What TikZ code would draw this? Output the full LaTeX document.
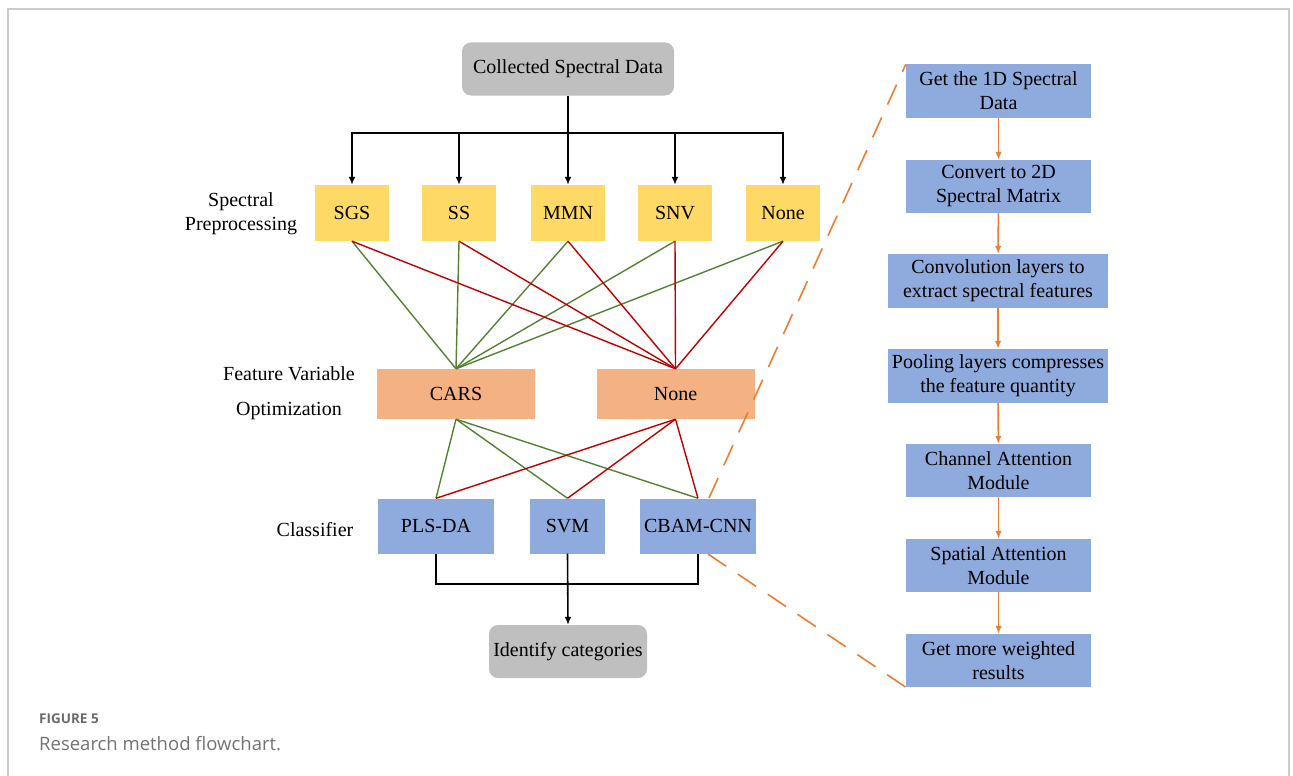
\documentclass[tikz,border=0pt]{standalone}
\usepackage{fontspec}
\setmainfont{Liberation Serif}
\newfontfamily\capfont{Open Sans}
\usetikzlibrary{arrows.meta}
\definecolor{yel}{HTML}{FFD966}
\definecolor{sal}{HTML}{F4B183}
\definecolor{blu}{HTML}{8FAADC}
\definecolor{gry}{HTML}{BFBFBF}
\definecolor{grn}{HTML}{548235}
\definecolor{rd}{HTML}{C00000}
\definecolor{org}{HTML}{ED7D31}
\definecolor{frame}{HTML}{CCCCCC}
\begin{document}
\begin{tikzpicture}[x=1pt,y=-1pt,
  base/.style={font=\fontsize{20}{24}\selectfont, align=center, inner sep=0pt, anchor=center},
  prebox/.style={base, fill=yel, minimum width=74, minimum height=56},
  featbox/.style={base, fill=sal, minimum width=158, minimum height=50},
  clsbox/.style={base, fill=blu, minimum height=55},
  cnnbox/.style={base, fill=blu, minimum width=185, minimum height=53},
  widebox/.style={base, fill=blu, minimum width=220, minimum height=54},
  termbox/.style={base, fill=gry, rounded corners=9, minimum height=53},
  lbl/.style={font=\fontsize{20}{24}\selectfont, align=center, inner sep=0pt},
  blk/.style={draw=black, line width=1.6},
  blkarr/.style={blk, -{Latex[length=8,width=7]}},
  gl/.style={draw=grn, line width=1.4},
  rl/.style={draw=rd, line width=1.4},
  oarr/.style={draw=org, line width=1.6, -{Latex[length=8,width=6.5]}},
  odash/.style={draw=org, line width=1.6, dash pattern=on 22 off 14}
]
\useasboundingbox (0,0) rectangle (1293,776);
\draw[frame, line width=1.2] (8,776) -- (8,9) -- (1289,9) -- (1289,776);

% left part
\node[termbox, minimum width=212] (coll) at (568,69) {Collected Spectral Data};
\node[prebox] (sgs) at (352,213) {SGS};
\node[prebox] (ss) at (459,213) {SS};
\node[prebox] (mmn) at (568,213) {MMN};
\node[prebox] (snv) at (675,213) {SNV};
\node[prebox] (pnone) at (783,213) {None};
\node[lbl] (lpre) at (241,214) {Spectral\\Preprocessing};

\node[featbox] (cars) at (456,394) {CARS};
\node[featbox] (fnone) at (675.5,394) {None};
\node[lbl, font=\fontsize{20}{35}\selectfont] (lfeat) at (289,393) {Feature Variable\\Optimization};

\node[clsbox, minimum width=116] (pls) at (436,526) {PLS-DA};
\node[clsbox, minimum width=75] (svm) at (567.5,526) {SVM};
\node[clsbox, minimum width=116] (cbam) at (698,526) {CBAM-CNN};
\node[lbl] (lcls) at (315,530) {Classifier};

\node[termbox, minimum width=158] (ident) at (568,651.5) {Identify categories};

\coordinate (hub) at (568,133);
\draw[blk] (coll.south) -- (hub);
\foreach \n in {sgs,ss,mmn,snv,pnone}{\draw[blkarr] (hub) -| (\n.north);}

\foreach \n in {sgs,ss,mmn,snv,pnone}{\draw[gl] (\n.south) -- (cars.north);}
\foreach \n in {sgs,ss,mmn,snv,pnone}{\draw[rl] (\n.south) -- (fnone.north);}

\foreach \n in {pls,svm,cbam}{\draw[gl] (cars.south) -- (\n.north);}
\foreach \n in {pls,svm,cbam}{\draw[rl] (fnone.south) -- (\n.north);}

\coordinate (bot) at (567.5,584);
\draw[blk] (pls.south) |- (bot) -| (cbam.south);
\draw[blkarr] (svm.south) -- (ident.north);

% right column
\node[cnnbox] (r1) at (998.5,91) {Get the 1D Spectral\\Data};
\node[cnnbox] (r2) at (998.5,186.5) {Convert to 2D\\Spectral Matrix};
\node[widebox] (r3) at (998,281) {Convolution layers to\\extract spectral features};
\node[widebox] (r4) at (998,376) {Pooling layers compresses\\the feature quantity};
\node[cnnbox] (r5) at (998.5,470.5) {Channel Attention\\Module};
\node[cnnbox] (r6) at (998.5,565.5) {Spatial Attention\\Module};
\node[cnnbox] (r7) at (998.5,660.5) {Get more weighted\\results};
\draw[oarr] (r1) -- (r2);
\draw[oarr] (r2) -- (r3);
\draw[oarr] (r3) -- (r4);
\draw[oarr] (r4) -- (r5);
\draw[oarr] (r5) -- (r6);
\draw[oarr] (r6) -- (r7);

\coordinate (dt) at (709,498);
\coordinate (db) at (708,554);
\draw[odash] (dt) -- (r1.north west);
\draw[odash] (db) -- (r7.south west);

% caption
\node[anchor=west, inner sep=0, font=\capfont\fontsize{13.5}{15}\selectfont\bfseries, text=black!58] (cap1) at (39,719) {FIGURE 5};
\node[anchor=west, inner sep=0, font=\capfont\fontsize{18.5}{21}\selectfont, text=black!55] (cap2) at (39,744) {Research method flowchart.};
\end{tikzpicture}
\end{document}
